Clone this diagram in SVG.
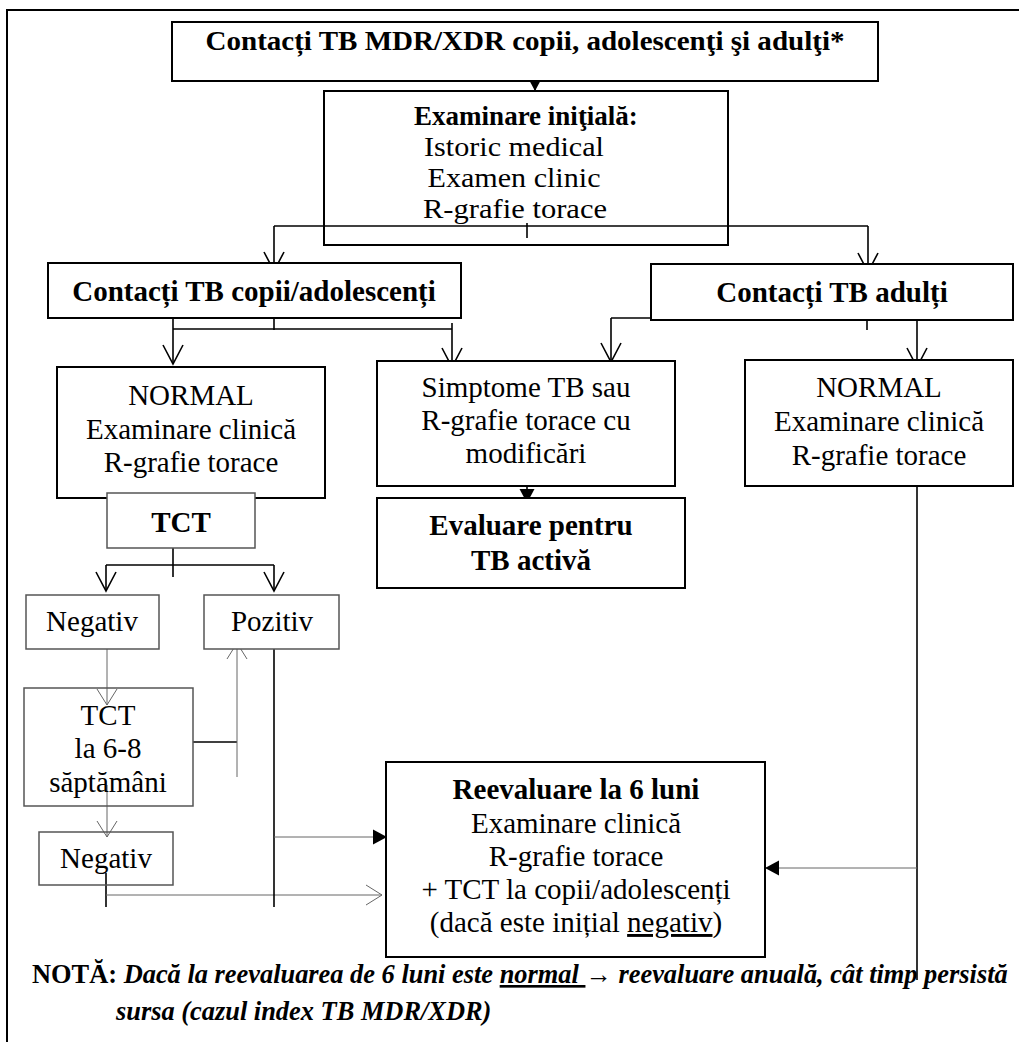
<svg xmlns="http://www.w3.org/2000/svg" width="1019" height="1042" viewBox="0 0 1019 1042">
<style>
.box{fill:#fff;stroke:#000;stroke-width:2}
.gbox{fill:#fff;stroke:#555;stroke-width:1.5}
.ln{stroke:#000;stroke-width:1.6;fill:none}
.tl{stroke:#666;stroke-width:1;fill:none}
.fr{stroke:#000;stroke-width:2;fill:none}
text{font-family:"Liberation Serif","Times New Roman",serif;font-size:29px;fill:#000;text-anchor:middle}
.b{font-weight:bold}
.s27{font-size:27px}
.s28{font-size:28px}
.note{font-size:26.4px;text-anchor:start;font-weight:bold}
.it{font-style:italic}
.u{text-decoration:underline}
</style>
<defs>
<marker id="open" markerUnits="userSpaceOnUse" viewBox="-21 -12 23 24" refX="0" refY="0" markerWidth="23" markerHeight="24" orient="auto">
<path d="M-19,-10 L0,0 L-19,10" fill="none" stroke="#000" stroke-width="1.6"/>
</marker>
<marker id="openThin" markerUnits="userSpaceOnUse" viewBox="-18 -12 20 24" refX="0" refY="0" markerWidth="20" markerHeight="24" orient="auto">
<path d="M-16,-10 L0,0 L-16,10" fill="none" stroke="#666" stroke-width="1"/>
</marker>
<marker id="fill" markerUnits="userSpaceOnUse" viewBox="-16 -9 17 18" refX="0" refY="0" markerWidth="17" markerHeight="18" orient="auto">
<path d="M-14,-7.5 L0,0 L-14,7.5 Z" fill="#000"/>
</marker>
</defs>

<path class="fr" d="M7,1042 V10 H1019"/>

<g id="connectors">
<line class="ln" x1="535" y1="81" x2="535" y2="91" marker-end="url(#fill)"/>
<line class="ln" x1="527" y1="223" x2="527" y2="238"/>
<line class="ln" x1="274" y1="226" x2="868" y2="226"/>
<line class="ln" x1="274" y1="226" x2="274" y2="271" marker-end="url(#open)"/>
<line class="ln" x1="868" y1="226" x2="868" y2="272" marker-end="url(#open)"/>

<line class="ln" x1="274" y1="307" x2="274" y2="330"/>
<line class="ln" x1="173" y1="329" x2="452" y2="329"/>
<line class="ln" x1="173" y1="318" x2="173" y2="364" marker-end="url(#open)"/>
<line class="ln" x1="452" y1="323" x2="452" y2="367" marker-end="url(#open)"/>

<line class="ln" x1="867" y1="307" x2="867" y2="330"/>
<line class="ln" x1="611" y1="318" x2="917" y2="318"/>
<line class="ln" x1="611" y1="318" x2="611" y2="362" marker-end="url(#open)"/>
<line class="ln" x1="917" y1="318" x2="917" y2="367" marker-end="url(#open)"/>

<line class="ln" x1="173" y1="463" x2="173" y2="503" marker-end="url(#fill)"/>
<line class="ln" x1="527" y1="467" x2="527" y2="503" marker-end="url(#fill)"/>

<line class="ln" x1="173" y1="528" x2="173" y2="577"/>
<line class="ln" x1="106" y1="565" x2="274" y2="565"/>
<line class="ln" x1="106" y1="565" x2="106" y2="591" marker-end="url(#open)"/>
<line class="ln" x1="274" y1="565" x2="274" y2="591" marker-end="url(#open)"/>

<line class="tl" x1="107" y1="637" x2="107" y2="705" marker-end="url(#openThin)"/>
<line class="ln" x1="193" y1="742" x2="237" y2="742"/>
<line class="tl" x1="237" y1="777" x2="237" y2="643" marker-end="url(#openThin)"/>
<line class="tl" x1="107" y1="785" x2="107" y2="837" marker-end="url(#openThin)"/>

<line class="ln" x1="106" y1="873" x2="106" y2="907"/>
<line class="tl" x1="106" y1="895" x2="382" y2="895" marker-end="url(#openThin)"/>

<line class="ln" x1="274" y1="637" x2="274" y2="907"/>
<line class="tl" x1="274" y1="837" x2="387" y2="837" marker-end="url(#fill)"/>

<line class="ln" x1="917" y1="460" x2="917" y2="980"/>
<line class="tl" x1="917" y1="868" x2="765" y2="868" marker-end="url(#fill)"/>
</g>

<g id="n-title">
<rect class="box" x="172" y="22" width="706" height="59"/>
<text class="b s27" x="525" y="50" textLength="639" lengthAdjust="spacingAndGlyphs">Contacți TB MDR/XDR copii, adolescenţi şi adulţi*</text>
</g>

<g id="n-exam">
<rect class="box" x="324" y="91" width="404" height="154" fill-opacity="0"/>
<text class="b s27" x="526" y="125">Examinare iniţială:</text>
<text class="s28" x="514" y="156" textLength="180" lengthAdjust="spacingAndGlyphs">Istoric medical</text>
<text class="s28" x="514" y="187" textLength="173" lengthAdjust="spacingAndGlyphs">Examen clinic</text>
<text class="s28" x="515" y="218" textLength="184" lengthAdjust="spacingAndGlyphs">R-grafie torace</text>
</g>

<g id="n-copii">
<rect class="box" x="48" y="263" width="413" height="55"/>
<text class="b" x="254" y="301">Contacți TB copii/adolescenți</text>
</g>

<g id="n-adulti">
<rect class="box" x="651" y="264" width="362" height="56"/>
<text class="b" x="832" y="302">Contacți TB adulți</text>
</g>

<g id="n-normal-copii">
<rect class="box" x="57" y="367" width="268" height="131"/>
<text x="191" y="405">NORMAL</text>
<text x="191" y="439">Examinare clinică</text>
<text x="191" y="472">R-grafie torace</text>
</g>

<g id="n-simptome">
<rect class="box" x="377" y="361" width="298" height="125"/>
<text x="526" y="397">Simptome TB sau</text>
<text x="526" y="430">R-grafie torace cu</text>
<text x="526" y="463">modificări</text>
</g>

<g id="n-normal-adulti">
<rect class="box" x="745" y="360" width="268" height="126"/>
<text x="879" y="397">NORMAL</text>
<text x="879" y="431">Examinare clinică</text>
<text x="879" y="465">R-grafie torace</text>
</g>

<g id="n-tct">
<rect class="gbox" x="107" y="493" width="148" height="55"/>
<text class="b" x="181" y="532">TCT</text>
</g>

<g id="n-evaluare">
<rect class="box" x="377" y="498" width="308" height="90"/>
<text class="b" x="531" y="535">Evaluare pentru</text>
<text class="b" x="531" y="570">TB activă</text>
</g>

<g id="n-negativ1">
<rect class="gbox" x="26" y="595" width="133" height="54"/>
<text x="92" y="631">Negativ</text>
</g>

<g id="n-pozitiv">
<rect class="gbox" x="204" y="595" width="135" height="54"/>
<text x="272" y="631">Pozitiv</text>
</g>

<g id="n-tct68">
<rect class="gbox" x="24" y="688" width="169" height="118" fill-opacity="0"/>
<text x="108" y="725">TCT</text>
<text x="108" y="758">la 6-8</text>
<text x="108" y="792">săptămâni</text>
</g>

<g id="n-negativ2">
<rect class="gbox" x="39" y="832" width="134" height="53" fill-opacity="0"/>
<text x="106" y="868">Negativ</text>
</g>

<g id="n-reevaluare">
<rect class="box" x="386" y="762" width="379" height="195"/>
<text class="b" x="576" y="799">Reevaluare la 6 luni</text>
<text x="576" y="833">Examinare clinică</text>
<text x="576" y="866">R-grafie torace</text>
<text x="576" y="899">+ TCT la copii/adolescenți</text>
<text x="576" y="932">(dacă este inițial <tspan class="u">negativ</tspan>)</text>
</g>

<g id="note">
<text class="note" x="32" y="983">NOTĂ: <tspan class="it">Dacă la reevaluarea de 6 luni este <tspan class="u">normal </tspan>→ reevaluare anuală, cât timp persistă</tspan></text>
<text class="note it" x="116" y="1020">sursa (cazul index TB MDR/XDR)</text>
</g>
</svg>
